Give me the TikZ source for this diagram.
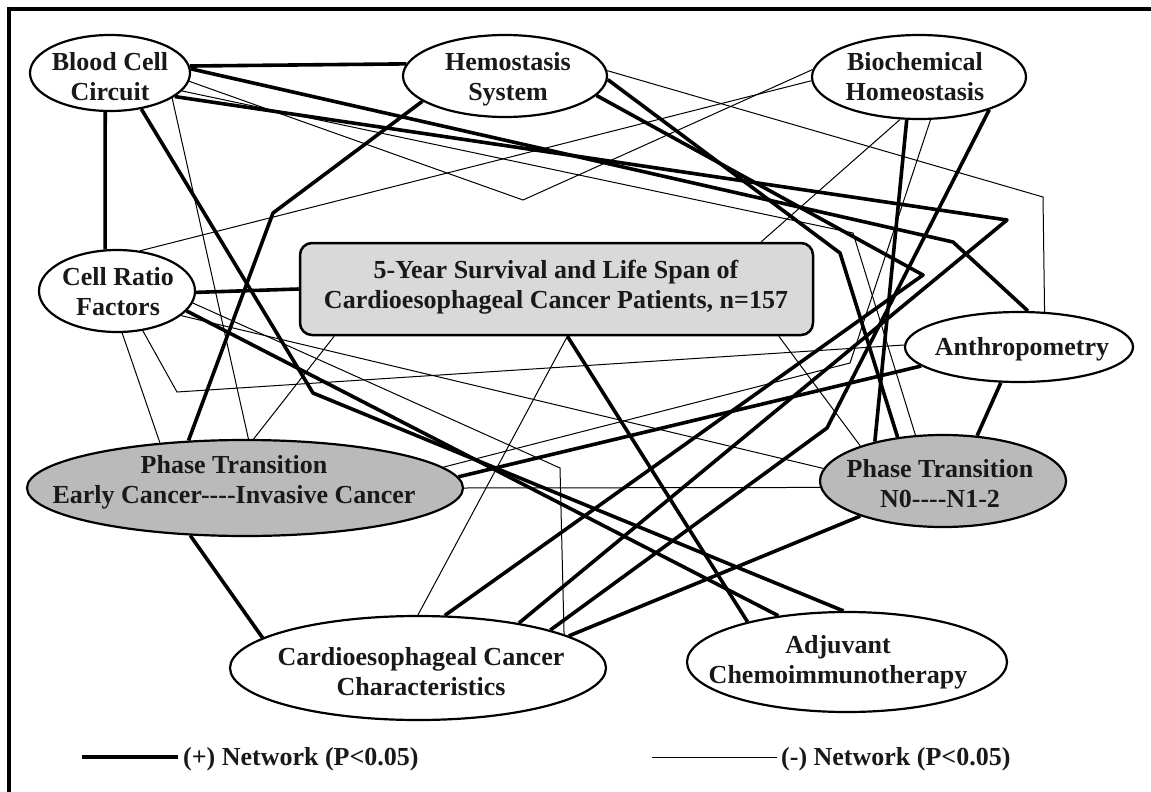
\documentclass[tikz,border=0pt]{standalone}
\usepackage{fontspec}
\setmainfont{Liberation Serif}
\usetikzlibrary{shapes.geometric}
\pgfdeclarelayer{back}
\pgfdeclarelayer{bg}
\pgfsetlayers{back,bg,main}
\definecolor{phasegray}{gray}{0.73}
\definecolor{boxgray}{gray}{0.85}
\tikzset{
  ellnode/.style={ellipse, draw, line width=2.2pt, fill=white, inner sep=0pt},
  txt/.style={font=\fontsize{26}{30}\selectfont\bfseries, align=center, inner sep=0pt, anchor=north, text=black!90},
  plusline/.style={line width=3.6pt, line join=round},
  minusline/.style={line width=1pt, line join=miter},
}
\begin{document}
\begin{tikzpicture}[x=1pt,y=-1pt]
\useasboundingbox (0,0) rectangle (1151,792);
\begin{pgfonlayer}{back}
\fill[white] (0,0) rectangle (1151,792);
\end{pgfonlayer}
\draw[line width=4pt] (9,792) -- (9,9) -- (1151,9);

% nodes
\node[ellnode, minimum width=160pt, minimum height=76pt] (bcc) at (110,73) {};
\node[ellnode, minimum width=204pt, minimum height=82pt] (hemo) at (505,76) {};
\node[ellnode, minimum width=214pt, minimum height=84pt] (bio) at (919,77) {};
\node[ellnode, minimum width=156pt, minimum height=82pt] (crf) at (117,291) {};
\node[draw, line width=2.5pt, fill=boxgray, rounded corners=12pt, minimum width=513pt, minimum height=92pt, inner sep=0pt] (box) at (556.5,289) {};
\node[ellnode, minimum width=228pt, minimum height=70pt] (anthro) at (1019,347) {};
\node[ellnode, fill=phasegray, minimum width=436pt, minimum height=96pt] (pe) at (245,488) {};
\node[ellnode, fill=phasegray, minimum width=246pt, minimum height=92pt] (pn) at (943,481) {};
\node[ellnode, minimum width=376pt, minimum height=104pt] (ccc) at (418,668) {};
\node[ellnode, minimum width=320pt, minimum height=100pt] (adj) at (847,662) {};

% texts
\node[txt] (tbcc) at (110,52.5) {Blood Cell\\Circuit};
\node[txt] (themo) at (508,52.5) {Hemostasis\\System};
\node[txt] (tbio) at (915,52.5) {Biochemical\\Homeostasis};
\node[txt] (tcrf) at (118,267.5) {Cell Ratio\\Factors};
\node[txt] (tbox) at (556,260) {5-Year Survival and Life Span of\\Cardioesophageal Cancer Patients, n=157};
\node[txt] (tanthro) at (1022,337.5) {Anthropometry};
\node[txt] (tpe) at (234,455.5) {Phase Transition\\Early Cancer-\kern0pt-\kern0pt-\kern0pt-Invasive Cancer};
\node[txt] (tpn) at (940,459.5) {Phase Transition\\N0-\kern0pt-\kern0pt-\kern0pt-N1-2};
\node[txt] (tccc) at (421,647.5) {Cardioesophageal Cancer\\Characteristics};
\node[txt] (tadj) at (838,635.5) {Adjuvant\\Chemoimmunotherapy};

% bend points
\coordinate (k4) at (313,393);
\coordinate (k6) at (273,213);
\coordinate (k7) at (1007,220);
\coordinate (k8) at (953,242);
\coordinate (k9) at (923,275);
\coordinate (k10) at (840,253);
\coordinate (k12) at (827,428);
\coordinate (n1) at (523,200);
\coordinate (n3) at (853,233);
\coordinate (n4) at (1043,197);
\coordinate (n6) at (560,468);
\coordinate (n8) at (177,392);
\coordinate (n14) at (850,363);

\begin{pgfonlayer}{bg}
% (+) network
\draw[plusline] (bcc.-97.5) -- (crf.106.3);
\draw[plusline] (bcc.5.6) -- (hemo.173.7);
\draw[plusline] (crf.-1.5) -- (box.180.9);
\draw[plusline] (bcc.-49.1) -- (k4) -- (adj.94.6);
\draw[plusline] (crf.-16.5) -- (adj.146.1);
\draw[plusline] (hemo.-163.7) -- (k6) -- (pe.140.1);
\draw[plusline] (bcc.-20.3) -- (k7) -- (ccc.24.4);
\draw[plusline] (bcc.3.5) -- (k8) -- (anthro.76.8);
\draw[plusline] (hemo.-12.5) -- (k9) -- (ccc.63.9);
\draw[plusline] (hemo.-2) -- (k10) -- (pn.136.3);
\draw[plusline] (bio.-106) -- (pn.150.1);
\draw[plusline] (bio.-25.3) -- (k12) -- (ccc.16.7);
\draw[plusline] (ccc.12.4) -- (pn.-157.2);
\draw[plusline] (box.-77.1) -- (adj.158);
\draw[plusline] (pe.3.5) -- (anthro.191.1);
\draw[plusline] (anthro.-117.8) -- (pn.53.5);
\draw[plusline] (pe.-139.8) -- (ccc.169);
% (-) network
\draw[minusline] (bcc.-6.4) -- (n1) -- (bio.176.3);
\draw[minusline] (bcc.-22) -- (pe.86.4);
\draw[minusline] (bcc.-14.6) -- (n3) -- (pn.121.3);
\draw[minusline] (hemo.3) -- (n4) -- (anthro.54.8);
\draw[minusline] (crf.60.7) -- (bio.182.7);
\draw[minusline] (crf.-9.1) -- (n6) -- (ccc.13.7);
\draw[minusline] (crf.-21.7) -- (pn.174.8);
\draw[minusline] (crf.-57.6) -- (n8) -- (anthro.179);
\draw[minusline] (crf.-83.2) -- (pe.152.9);
\draw[minusline] (box.-168.8) -- (pe.80.5);
\draw[minusline] (box.-77.1) -- (ccc.90);
\draw[minusline] (box.-12.6) -- (pn.157.8);
\draw[minusline] (box.13.2) -- (bio.-114.3);
\draw[minusline] (pe.6.6) -- (n14) -- (bio.-75.6);
\draw[minusline] (pe.0) -- (pn.183.3);
\end{pgfonlayer}

% legend
\coordinate (lp1) at (82,757);
\coordinate (lp2) at (178,757);
\draw[plusline, line cap=butt] (lp1) -- (lp2);
\node[txt, anchor=base west] (lgp) at (183,765) {(+) Network (P<0.05)};
\coordinate (ln1) at (652,757);
\coordinate (ln2) at (777,757);
\draw[minusline] (ln1) -- (ln2);
\node[txt, anchor=base west] (lgn) at (781,765) {(-) Network (P<0.05)};
\end{tikzpicture}
\end{document}
